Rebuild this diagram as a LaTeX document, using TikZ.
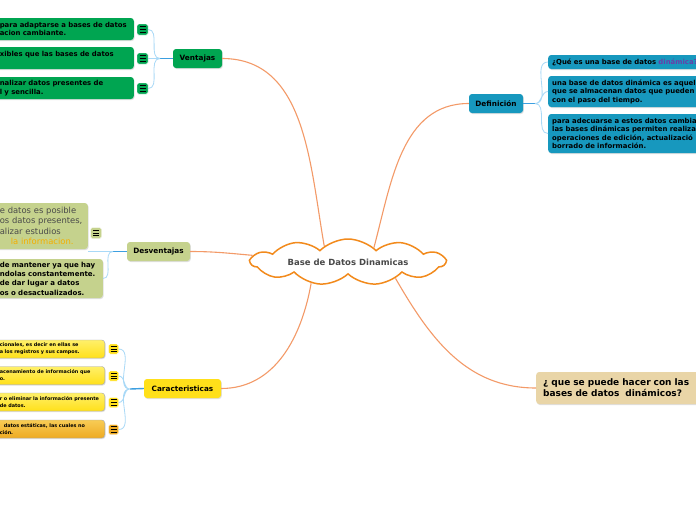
\documentclass[tikz,border=0pt]{standalone}
\usepackage{fontspec}
\setmainfont{DejaVu Sans}
\usetikzlibrary{shapes.symbols,shadows}
\definecolor{LeafGreen}{HTML}{00A551}
\definecolor{DefTeal}{HTML}{1798BE}
\definecolor{Olive}{HTML}{C5D28D}
\definecolor{Sun}{HTML}{FFE01A}
\definecolor{SunLight}{HTML}{FFF06A}
\definecolor{Amber}{HTML}{EEAA22}
\definecolor{AmberLight}{HTML}{F8CC55}
\definecolor{Tan}{HTML}{E9D5A7}
\definecolor{Salmon}{HTML}{F39A68}
\definecolor{CloudLine}{HTML}{F28A1C}
\definecolor{TwigBlue}{HTML}{A9D9F7}
\definecolor{StubBlue}{HTML}{3C9FE0}
\definecolor{InkGrey}{HTML}{4A4A4A}
\definecolor{Plum}{HTML}{6A3DA8}
\definecolor{Gold}{HTML}{F4AE00}
\newcommand\fs[2]{\fontsize{#1}{#2}\selectfont}

\begin{document}
\begin{tikzpicture}[x=1pt,y=-1pt,every node/.style={text=black},
 boxshadow/.style={drop shadow={opacity=.25,shadow xshift=.8pt,shadow yshift=-1pt}},
 topicbox/.style={rounded corners=3pt,font=\bfseries\fs{7.3}{8},minimum height=19pt,inner sep=0pt,boxshadow},
 leafbox/.style={rounded corners=3pt,align=left,inner xsep=4pt,inner ysep=0pt,boxshadow},
 noteicon/.style={minimum size=11pt,inner sep=0pt,rounded corners=1.5pt,draw=white,line width=.4pt,
  path picture={\foreach \k in {-2.6,0,2.6}\draw[black,line width=.9pt] ([xshift=-3pt,yshift=\k pt]path picture bounding box.center)--++(6pt,0pt);}},
 mainlink/.style={Salmon,line width=1.1pt},
 twiglink/.style={TwigBlue,line width=.8pt},
 stublink/.style={StubBlue,line width=1.4pt}]
\fill[white] (0,0) rectangle (696,520);
\useasboundingbox (0,0) rectangle (696,520); \clip (0,0) rectangle (696,520);
% centre
\node[cloud,cloud ignores aspect,draw=CloudLine,line width=1.5pt,fill=white,cloud puffs=11,cloud puff arc=90,minimum width=194pt,minimum height=46pt,inner sep=0pt,font=\bfseries\fs{8.5}{10},text=InkGrey] (core) at (348,262){Base de Datos Dinamicas};
% topics
\node[topicbox,fill=LeafGreen,minimum width=49pt] (vent) at (197.5,58.5){Ventajas};
\node[topicbox,fill=DefTeal,minimum width=54pt] (defi) at (496,103.5){Definición};
\node[topicbox,fill=Olive,minimum width=63pt] (desv) at (158.5,251.5){Desventajas};
\node[topicbox,fill=Sun,minimum width=77pt] (cara) at (182.5,388.5){Caracteristicas};
\node[leafbox,fill=Tan,anchor=west,text width=170pt,inner xsep=7pt,minimum height=32pt,font=\bfseries\fs{9}{11}] (hacer) at (536,388){¿ que se puede hacer con las\\bases de datos~ dinámicos?};
\draw[mainlink] (vent.east) to[out=0,in=100] (core.146);
\draw[mainlink] (defi.west) to[out=180,in=75] (core.29);
\draw[mainlink] (desv.east) to[out=0,in=175] (core.176);
\draw[mainlink] (cara.east) to[out=0,in=260] (core.210);
\draw[mainlink] (core.341) to[out=-60,in=180] (hacer.west);
% Ventajas
\begin{scope}[every node/.append style={font=\bfseries\fs{6.9}{8.5}}]
\node[leafbox,fill=LeafGreen,anchor=east,text width=130pt,minimum height=22pt] (v1) at (134,29){para adaptarse a bases de datos\\acion cambiante.};
\node[leafbox,fill=LeafGreen,anchor=east,text width=130pt,minimum height=22pt] (v2) at (134,58){xibles que las bases de datos\\~};
\node[leafbox,fill=LeafGreen,anchor=east,text width=130pt,minimum height=22pt] (v3) at (134,88){nalizar datos presentes de\\l y sencilla.};
\end{scope}
\foreach \n/\y in {1/29.5,2/58.5,3/88.5}{\node[noteicon,fill=LeafGreen] (vi\n) at (142.5,\y){};}
\coordinate (vj) at (160,58.5); \draw[stublink] (vent.west)--(vj);
\draw[twiglink] (vj) to[out=180,in=0] (vi1.east) (vj)--(vi2.east) (vj) to[out=180,in=0] (vi3.east);
% Definicion
\begin{scope}[every node/.append style={font=\bfseries\fs{6.9}{8.5}}]
\node[leafbox,fill=DefTeal,anchor=west,text width=170pt,minimum height=14pt] (d1) at (548,62){¿Qué es una base de datos {\color{Plum}dinámica?}};
\node[leafbox,fill=DefTeal,anchor=west,text width=170pt,minimum height=31pt] (d2) at (548,91.5){una base de datos dinámica es aquel\\que se almacenan datos que pueden\\con el paso del tiempo.};
\node[leafbox,fill=DefTeal,anchor=west,text width=170pt,minimum height=39pt] (d3) at (548,133.5){para adecuarse a estos datos cambia\\las bases dinámicas permiten realiza\\operaciones de edición, actualizació\\borrado de información.};
\end{scope}
\coordinate (dj) at (535,103.5); \draw[stublink] (defi.east)--(dj);
\draw[twiglink] (dj) to[out=0,in=180] (d1.west) (dj) to[out=0,in=180] (d2.west) (dj) to[out=0,in=180] (d3.west);
% Desventajas
\node[leafbox,fill=Olive,anchor=east,text width=84pt,minimum height=46pt,font=\fs{8.4}{10.5},text=InkGrey] (s1) at (88,226){e datos es posible\\os datos presentes,\\alizar estudios\\\hspace*{11pt}{\color{Gold}la informacion.}};
\node[noteicon,fill=Olive] (si1) at (96,233){};
\node[leafbox,fill=Olive,anchor=east,text width=99pt,minimum height=39pt,font=\bfseries\fs{7}{9.3}] (s2) at (103,278.5){de mantener ya que hay\\ndolas constantemente.\\de dar lugar a datos\\os o desactualizados.};
\coordinate (sj) at (113,251.5); \draw[stublink] (desv.west)--(sj);
\draw[twiglink] (sj)--(sj-|s1.east) (sj) to[out=180,in=0] (s2.east);
% Caracteristicas
\begin{scope}[every node/.append style={font=\bfseries\fs{4.9}{7}}]
\node[leafbox,draw=gray!70,top color=SunLight,bottom color=Sun,anchor=east,text width=101pt,minimum height=18pt] (c1) at (105,349){cionales, es decir en ellas se\\a los registros y sus campos.};
\node[leafbox,draw=gray!70,top color=SunLight,bottom color=Sun,anchor=east,text width=101pt,minimum height=18pt] (c2) at (105,375.5){acenamiento de información que\\o.};
\node[leafbox,draw=gray!70,top color=SunLight,bottom color=Sun,anchor=east,text width=101pt,minimum height=18pt] (c3) at (105,402){r o eliminar la información presente\\de datos.};
\node[leafbox,draw=gray!70,top color=AmberLight,bottom color=Amber,anchor=east,text width=101pt,minimum height=18pt] (c4) at (105,429){\hspace*{4pt}datos estáticas, las cuales no\\ción.};
\end{scope}
\foreach \n/\y/\c in {1/349/Sun,2/376/Sun,3/402.5/Sun,4/429.5/Amber}{\node[noteicon,fill=\c,minimum size=10pt] (ci\n) at (113.5,\y){};}
\coordinate (cj) at (130,389); \draw[stublink] (cara.west)--(cj);
\draw[twiglink] (cj) to[out=180,in=0] (ci1.east) (cj) to[out=180,in=0] (ci2.east) (cj) to[out=180,in=0] (ci3.east) (cj) to[out=180,in=0] (ci4.east);
\end{tikzpicture}
\end{document}
